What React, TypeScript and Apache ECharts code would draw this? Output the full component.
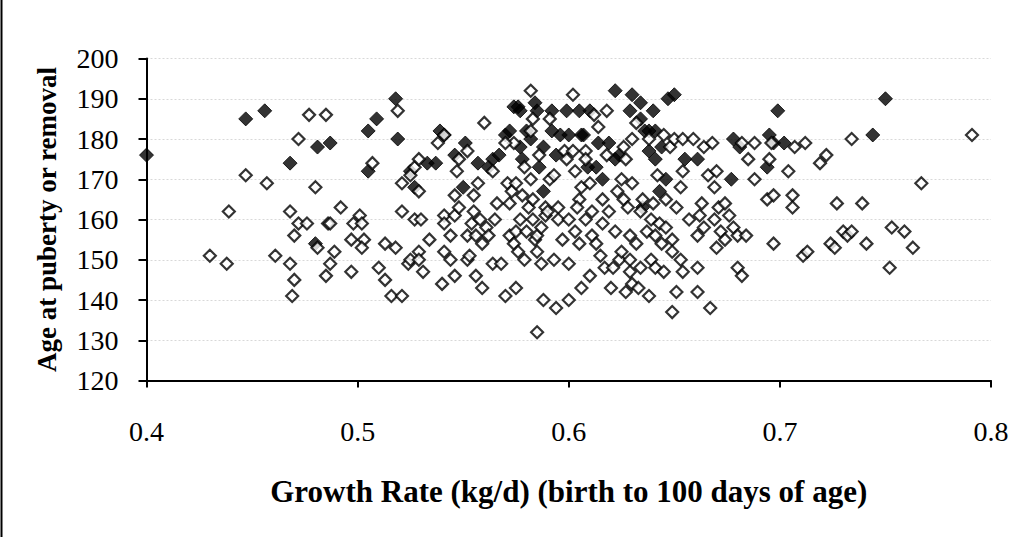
import React, { useEffect, useRef } from "react";
import * as echarts from "echarts";

const xTicks = [0.4, 0.5, 0.6, 0.7, 0.8];
const yTicks = [120, 130, 140, 150, 160, 170, 180, 190, 200];

// Pubertal (filled diamonds): [growth rate kg/d, age d]
const pubertal: number[][] = [
  [0.400,176],[0.447,185],[0.456,187],[0.468,174],[0.481,178],[0.487,179],[0.480,154],[0.505,182],
  [0.505,172],[0.509,185],[0.518,190],[0.519,180],[0.525,172],[0.527,168],[0.533,174],[0.537,174],
  [0.539,182],[0.541,181],[0.546,176],[0.551,179],[0.550,168],[0.557,174],[0.562,173],[0.564,175],
  [0.567,176],[0.570,181],[0.572,182],[0.574,188],[0.576,188],[0.577,187],[0.577,178],[0.578,175],
  [0.580,182],[0.582,180],[0.584,189],[0.585,187],[0.586,173],[0.588,178],[0.588,167],[0.592,187],
  [0.592,182],[0.596,181],[0.594,176],[0.599,187],[0.605,187],[0.606,181],[0.607,181],[0.610,187],
  [0.613,173],[0.616,170],[0.619,179],[0.622,192],[0.622,175],[0.624,176],[0.629,187],[0.630,191],
  [0.634,189],[0.634,185],[0.635,163],[0.636,182],[0.638,177],[0.638,182],[0.640,187],[0.641,182],
  [0.641,175],[0.643,167],[0.644,178],[0.646,170],[0.647,190],[0.650,191],[0.661,175],[0.677,170],
  [0.678,180],[0.695,181],[0.697,179],[0.699,187],[0.702,179],[0.694,173],[0.744,181],[0.750,190],
  [0.600,181],[0.614,179],[0.609,173],[0.655,175],[0.681,178]
];

// Removed (hollow diamonds)
const removed: number[][] = [
  [0.430,151],[0.438,149],[0.439,162],[0.447,171],[0.457,169],[0.461,151],[0.468,162],[0.468,149],
  [0.470,145],[0.469,141],[0.470,156],[0.472,180],[0.472,159],[0.476,159],[0.477,186],[0.480,168],
  [0.481,153],[0.485,186],[0.485,146],[0.486,159],[0.487,159],[0.487,149],[0.489,152],[0.492,163],
  [0.497,147],[0.497,155],[0.498,159],[0.501,161],[0.502,159],[0.503,155],[0.502,153],[0.507,174],
  [0.510,148],[0.513,154],[0.513,145],[0.516,141],[0.518,153],[0.519,187],[0.521,141],[0.521,162],
  [0.521,169],[0.524,149],[0.525,150],[0.525,171],[0.527,173],[0.527,160],[0.529,175],[0.529,152],
  [0.529,150],[0.531,147],[0.530,160],[0.529,167],[0.534,155],[0.538,179],[0.541,181],[0.541,161],
  [0.541,159],[0.541,152],[0.540,144],[0.544,156],[0.544,150],[0.546,161],[0.546,166],[0.547,172],
  [0.548,175],[0.546,146],[0.552,177],[0.552,156],[0.552,150],[0.553,151],[0.554,159],[0.555,162],
  [0.555,166],[0.556,146],[0.556,156],[0.557,169],[0.558,160],[0.559,143],[0.560,184],[0.559,154],
  [0.561,158],[0.562,156],[0.564,172],[0.564,149],[0.566,164],[0.568,149],[0.570,141],[0.571,169],
  [0.572,156],[0.572,164],[0.573,167],[0.574,154],[0.574,179],[0.575,143],[0.576,152],[0.575,157],
  [0.577,160],[0.578,166],[0.579,150],[0.579,173],[0.580,157],[0.581,163],[0.582,170],[0.582,182],
  [0.582,192],[0.583,185],[0.583,165],[0.583,160],[0.584,155],[0.585,152],[0.585,132],[0.585,156],
  [0.586,176],[0.587,149],[0.588,140],[0.589,163],[0.589,161],[0.591,170],[0.591,185],[0.593,171],
  [0.593,150],[0.594,138],[0.595,163],[0.595,160],[0.597,155],[0.598,177],[0.599,175],[0.600,149],
  [0.600,140],[0.600,160],[0.602,191],[0.602,177],[0.603,172],[0.603,157],[0.605,154],[0.605,165],
  [0.606,143],[0.606,168],[0.608,177],[0.608,175],[0.608,160],[0.610,146],[0.610,169],[0.611,156],
  [0.611,162],[0.612,186],[0.613,154],[0.614,183],[0.616,159],[0.616,165],[0.617,148],[0.618,176],
  [0.618,187],[0.619,162],[0.620,143],[0.621,148],[0.622,157],[0.623,167],[0.624,150],[0.625,152],
  [0.625,170],[0.626,178],[0.626,165],[0.627,142],[0.627,175],[0.628,163],[0.629,150],[0.629,156],
  [0.629,147],[0.630,144],[0.630,180],[0.630,169],[0.632,184],[0.633,143],[0.634,162],[0.634,148],
  [0.635,165],[0.637,157],[0.638,180],[0.638,141],[0.639,150],[0.639,160],[0.640,164],[0.641,156],
  [0.641,148],[0.642,171],[0.643,159],[0.645,181],[0.645,147],[0.646,158],[0.646,165],[0.648,178],
  [0.649,137],[0.649,155],[0.649,152],[0.650,180],[0.651,142],[0.651,163],[0.653,150],[0.653,168],
  [0.654,172],[0.654,180],[0.654,147],[0.659,180],[0.661,156],[0.661,148],[0.661,142],[0.662,161],
  [0.663,164],[0.664,178],[0.664,158],[0.666,171],[0.667,138],[0.668,179],[0.669,160],[0.669,168],
  [0.670,153],[0.670,172],[0.671,163],[0.672,157],[0.674,155],[0.674,164],[0.676,161],[0.678,158],
  [0.680,156],[0.680,148],[0.682,146],[0.682,179],[0.684,156],[0.685,175],[0.688,179],[0.688,170],
  [0.694,165],[0.695,175],[0.696,179],[0.697,166],[0.697,154],[0.704,172],[0.706,166],[0.706,163],
  [0.707,178],[0.711,151],[0.712,179],[0.713,152],[0.719,174],[0.722,176],[0.724,154],[0.726,153],
  [0.727,164],[0.730,157],[0.732,156],[0.734,157],[0.734,180],[0.739,164],[0.741,154],[0.752,148],
  [0.753,158],[0.759,157],[0.763,153],[0.767,169],[0.791,181],[0.570,179],[0.575,169],[0.590,162],
  [0.565,160],[0.587,158],[0.604,163],[0.615,151],[0.632,154],[0.644,154],[0.657,160],[0.548,163]
];

const serif = "'Liberation Serif', 'Times New Roman', serif";

export default function App() {
  const ref = useRef<HTMLDivElement>(null);
  useEffect(() => {
    const chart = echarts.init(ref.current!, null, { renderer: "svg" });
    chart.setOption({
      animation: false,
      backgroundColor: "#ffffff",
      grid: { left: 146.5, right: 36, top: 58.5, bottom: 156.5, containLabel: false },
      graphic: [
        { type: "line", shape: { x1: 1.5, y1: 0, x2: 1.5, y2: 537 }, style: { stroke: "#000", lineWidth: 2 } }
      ],
      xAxis: {
        type: "value",
        min: xTicks[0],
        max: xTicks[xTicks.length - 1],
        interval: 0.1,
        name: "Growth Rate (kg/d) (birth to 100 days of age)",
        nameLocation: "middle",
        nameGap: 95,
        nameTextStyle: { fontFamily: serif, fontWeight: "bold", fontSize: 31, color: "#000" },
        axisLine: { onZero: false, lineStyle: { color: "#000", width: 2 } },
        axisTick: { show: true, inside: false, length: 7, lineStyle: { color: "#000", width: 2 } },
        axisLabel: {
          margin: 37,
          fontFamily: serif,
          fontSize: 28,
          color: "#000",
          formatter: (v: number) => v.toFixed(1),
        },
        splitLine: { show: false },
      },
      yAxis: {
        type: "value",
        min: yTicks[0],
        max: yTicks[yTicks.length - 1],
        interval: 10,
        name: "Age at puberty or removal",
        nameLocation: "middle",
        nameGap: 86,
        nameRotate: 90,
        nameTextStyle: { fontFamily: serif, fontWeight: "bold", fontSize: 27, color: "#000" },
        axisLine: { onZero: false, lineStyle: { color: "#000", width: 2 } },
        axisTick: { show: true, inside: false, length: 8, lineStyle: { color: "#000", width: 2 } },
        axisLabel: { margin: 28, fontFamily: serif, fontSize: 28, color: "#000" },
        splitLine: { show: true, lineStyle: { color: "#d8d8d8", width: 1, type: [2, 2] } },
      },
      series: [
        {
          type: "scatter",
          name: "Pubertal",
          data: pubertal,
          symbol: "diamond",
          symbolSize: 14,
          itemStyle: { color: "#000", borderColor: "#000", borderWidth: 1 },
          z: 2,
        },
        {
          type: "scatter",
          name: "Removed",
          data: removed,
          symbol: "diamond",
          symbolSize: 12,
          itemStyle: { color: "#fff", borderColor: "#000", borderWidth: 2.2 },
          z: 3,
        },
      ],
    });
    return () => chart.dispose();
  }, []);
  return (
    <div
      ref={ref}
      style={{ position: "fixed", left: 0, top: 0, width: 1027, height: 537, background: "#fff" }}
    />
  );
}
